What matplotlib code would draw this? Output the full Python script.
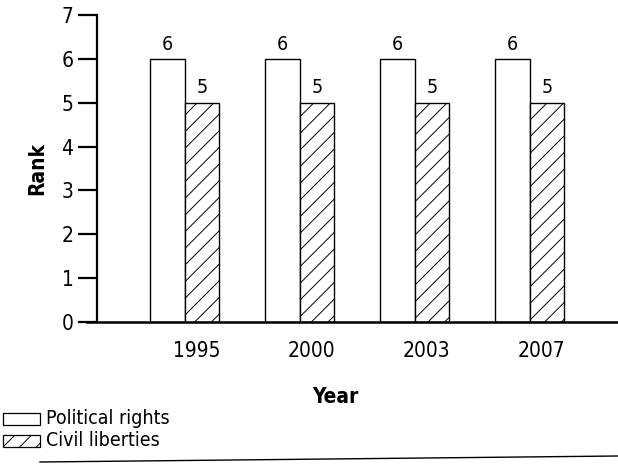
import matplotlib
matplotlib.use("Agg")
import matplotlib.pyplot as plt
from matplotlib.patches import Rectangle
from matplotlib.lines import Line2D
import numpy as np

plt.rcParams['font.family'] = ['DejaVu Sans']
plt.rcParams['font.stretch'] = 'condensed'
plt.rcParams['hatch.linewidth'] = 0.7

years = ['1995', '2000', '2003', '2007']
political_rights = [6, 6, 6, 6]
civil_liberties = [5, 5, 5, 5]
series_names = ['Political rights', 'Civil liberties']

W, H = 618, 472
fig = plt.figure(figsize=(W / 100, H / 100), dpi=100)

# axes box in pixels: left 97, bottom 322, top 15, runs to right edge
ax = fig.add_axes([97 / W, (H - 322) / H, 1 - 97 / W, (322 - 15) / H])

x = np.arange(len(years))
bw = 0.3
b1 = ax.bar(x - bw / 2, political_rights, bw, facecolor='white',
            edgecolor='black', linewidth=1.0)
b2 = ax.bar(x + bw / 2, civil_liberties, bw, facecolor='white',
            edgecolor='black', linewidth=1.0, hatch='//')

for bars in (b1, b2):
    for r in bars:
        ax.text(r.get_x() + r.get_width() / 2, r.get_height() + 0.12,
                f'{r.get_height():g}', ha='center', va='bottom', fontsize=14)

ax.set_xlim(-0.765, 3.77)
ax.set_ylim(0, 7)
ax.set_yticks(range(8))
ax.tick_params(axis='y', direction='out', length=14, width=1.6, labelsize=15, pad=3)
ax.set_xticks(x + 0.1)
ax.set_xticklabels(years, fontsize=15)
ax.tick_params(axis='x', length=0, pad=14)
ax.spines['top'].set_visible(False)
ax.spines['right'].set_visible(False)
ax.spines['left'].set_linewidth(1.6)
ax.spines['bottom'].set_linewidth(1.8)
ax.spines['bottom'].set_bounds(-0.85, 3.77)
ax.spines['bottom'].set_clip_on(False)

ax.set_ylabel('Rank', fontsize=15, fontweight='bold', labelpad=10)
fig.text(335 / W, 1 - 397 / H, 'Year', fontsize=15, fontweight='bold',
         ha='center', va='center')

# legend drawn by hand at bottom left
for i, (name, hatch) in enumerate(zip(series_names, ['', '//'])):
    y0 = 1 - (425 + 22 * i) / H
    fig.add_artist(Rectangle((3 / W, y0), 37 / W, 12 / H, transform=fig.transFigure,
                             facecolor='white', edgecolor='black', linewidth=0.9,
                             hatch=hatch))
    fig.text(46 / W, y0 + 6 / H, name, fontsize=14, va='center', ha='left')

fig.add_artist(Line2D([40 / W, 1], [1 - 462 / H, 1 - 456 / H],
                      transform=fig.transFigure, color='black', linewidth=1.0))

fig.savefig('out.png', dpi=100)
